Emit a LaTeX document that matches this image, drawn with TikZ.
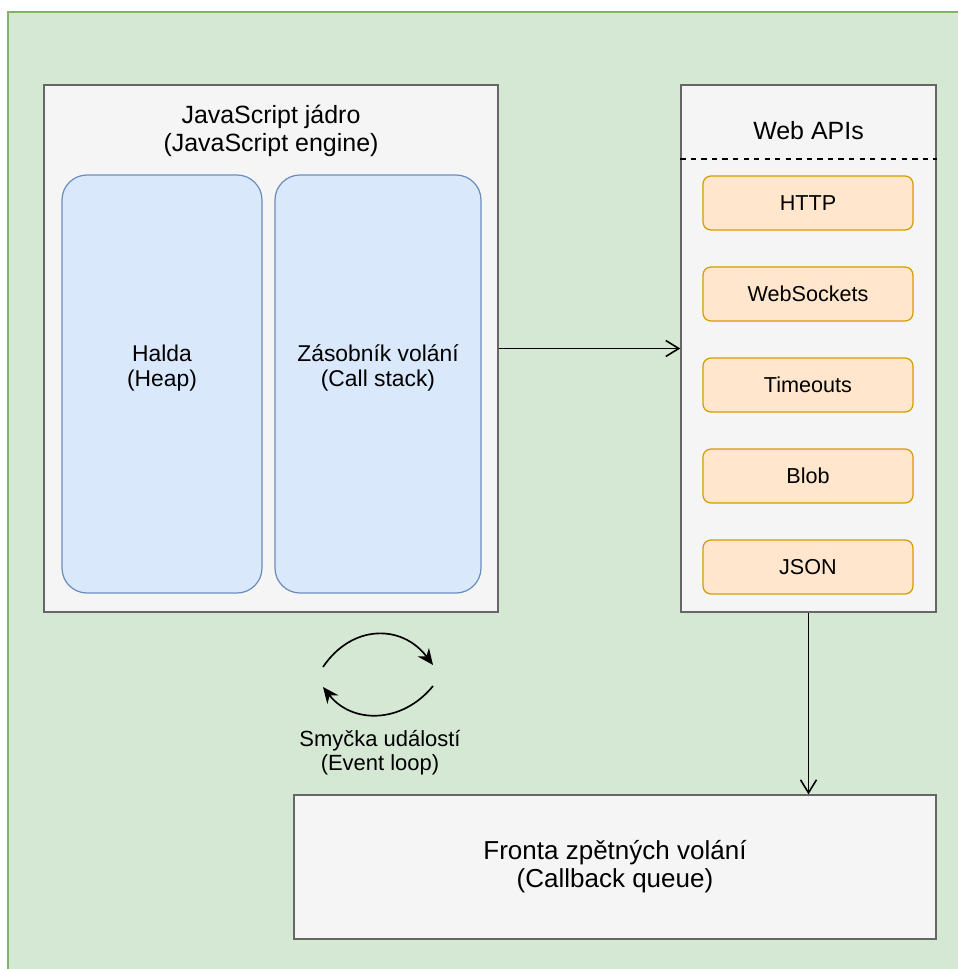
\documentclass[tikz,border=0pt]{standalone}
\usepackage{fontspec}
\setmainfont{Liberation Sans}
\usetikzlibrary{arrows.meta}
\definecolor{bggreen}{HTML}{D5E8D4}
\definecolor{bgline}{HTML}{82B366}
\definecolor{boxgray}{HTML}{F5F5F5}
\definecolor{boxline}{HTML}{666666}
\definecolor{memblue}{HTML}{DAE8FC}
\definecolor{memline}{HTML}{6C8EBF}
\definecolor{apiorange}{HTML}{FFE6CC}
\definecolor{apiline}{HTML}{D79B00}
\tikzset{
  panel/.style={draw=boxline,fill=boxgray,line width=0.8pt,inner sep=0pt},
  memory/.style={draw=memline,fill=memblue,line width=0.7pt,rounded corners=5mm,
    minimum width=#1,minimum height=83.6mm,inner sep=0pt},
  webapi/.style={draw=apiline,fill=apiorange,line width=0.7pt,rounded corners=1.6mm,
    minimum width=42mm,minimum height=10.8mm,font=\fontsize{12.3}{14}\selectfont},
  title/.style={align=center,font=\fontsize{14.2}{16}\selectfont},
  inner/.style={align=center,font=\fontsize{13}{14.3}\selectfont},
  flow/.style={-{Straight Barb[length=2.6mm,width=3.2mm]},line width=0.9pt},
  loop/.style={-{Stealth[length=3.2mm,width=2.8mm]},line width=0.95pt}
}
\begin{document}
\begin{tikzpicture}[x=0.2mm,y=-0.2mm]
\clip (0,0) rectangle (958,969);
\fill[white] (0,0) rectangle (958,969);
\draw[bgline,fill=bggreen,line width=1pt] (8,12) rectangle (970,980);

% JavaScript engine
\node[panel,minimum width=90.8mm,minimum height=105.4mm] (engine) at (271,348.5) {};
\node[title] (enginetxt) at (271,131) {JavaScript jádro\\(JavaScript engine)};
\node[memory=40mm] (heap) at (162,384) {};
\node[inner] (heaptxt) at (162,368) {Halda\\(Heap)};
\node[memory=41.2mm] (stack) at (378,384) {};
\node[inner] (stacktxt) at (378,368) {Zásobník volání\\(Call stack)};

% Web APIs
\node[panel,minimum width=51mm,minimum height=105.4mm] (webapis) at (808.5,348.5) {};
\node[title] (webapistxt) at (808.5,131) {Web APIs};
\draw[dashed,line width=0.8pt] (webapis.west |- 0,159) -- (webapis.east |- 0,159);
\node[webapi] (http) at (808,203) {HTTP};
\node[webapi] (sockets) at (808,294) {WebSockets};
\node[webapi] (timeouts) at (808,385) {Timeouts};
\node[webapi] (blob) at (808,476) {Blob};
\node[webapi] (json) at (808,567) {JSON};

% Callback queue
\node[panel,minimum width=128.4mm,minimum height=28.8mm,title,
  font=\fontsize{14.8}{16}\selectfont] (queue) at (615,867)
  {Fronta zpětných volání\\(Callback queue)};

\draw[flow] (engine.east) -- (webapis.west);
\draw[flow] (webapis.south) -- (webapis.south |- queue.north);

% Event loop
\coordinate (loopa) at (323,667);
\coordinate (loopb) at (433,665);
\coordinate (loopc) at (433,686);
\coordinate (loopd) at (323,687);
\draw[loop] (loopa) .. controls (352,624) and (402,624) .. (loopb);
\draw[loop] (loopc) .. controls (402,724) and (352,724) .. (loopd);
\node[align=center,font=\fontsize{12.5}{13.7}\selectfont] (looptxt) at (380,753)
  {Smyčka událostí\\(Event loop)};
\end{tikzpicture}
\end{document}
